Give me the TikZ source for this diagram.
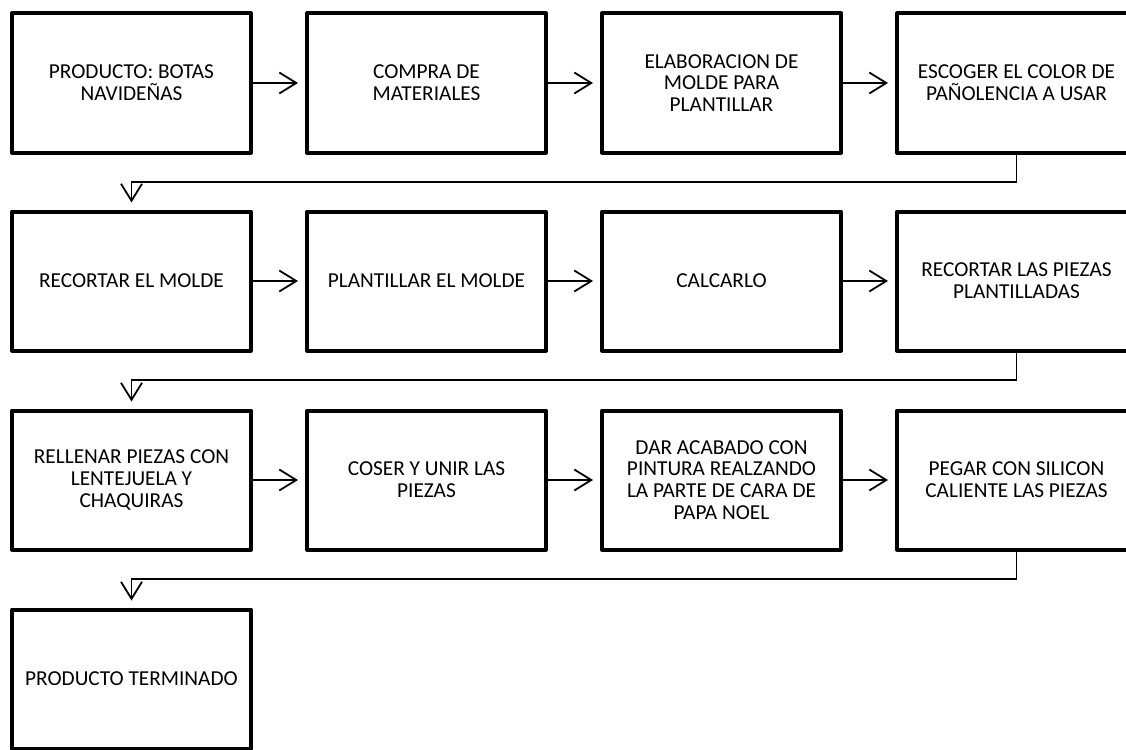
\documentclass[tikz,border=0pt]{standalone}
\usepackage{fontspec}
\setmainfont{Carlito}
\usetikzlibrary{arrows.meta}
\tikzset{
  stepbox/.style={draw=black, line width=4pt, line join=round, fill=white,
    rectangle, minimum width=239pt, minimum height=139pt, inner sep=0pt,
    align=center, font=\fontsize{21.3}{21.8}\selectfont},
  flow/.style={draw=black, line width=1.8pt,
    -{Straight Barb[length=17pt, width=21pt, line width=1.8pt]},
    shorten >=7pt},
}
\begin{document}
\begin{tikzpicture}[x=1pt, y=-1pt]
\useasboundingbox (0,0) rectangle (1126,749);
\clip (0,0) rectangle (1126,749);
\fill[white] (0,0) rectangle (1126,749);

% first row
\node[stepbox] (n1) at (131.5,83) {PRODUCTO: BOTAS\\NAVIDEÑAS};
\node[stepbox] (n2) at (426.5,83) {COMPRA DE\\MATERIALES};
\node[stepbox] (n3) at (721.5,83) {ELABORACION DE\\MOLDE PARA\\PLANTILLAR};
\node[stepbox] (n4) at (1016.5,83) {ESCOGER EL COLOR DE\\PAÑOLENCIA A USAR};
% second row
\node[stepbox] (n5) at (131.5,281) {RECORTAR EL MOLDE};
\node[stepbox] (n6) at (426.5,281) {PLANTILLAR EL MOLDE};
\node[stepbox] (n7) at (721.5,281) {CALCARLO};
\node[stepbox] (n8) at (1016.5,281) {RECORTAR LAS PIEZAS\\PLANTILLADAS};
% third row
\node[stepbox] (n9) at (131.5,480) {RELLENAR PIEZAS CON\\LENTEJUELA Y\\CHAQUIRAS};
\node[stepbox] (n10) at (426.5,480) {COSER Y UNIR LAS\\PIEZAS};
\node[stepbox] (n11) at (721.5,480) {DAR ACABADO CON\\PINTURA REALZANDO\\LA PARTE DE CARA DE\\PAPA NOEL};
\node[stepbox] (n12) at (1016.5,480) {PEGAR CON SILICON\\CALIENTE LAS PIEZAS};
% last row
\node[stepbox] (n13) at (131.5,679) {PRODUCTO TERMINADO};

% arrows along each row
\foreach \a/\b in {n1/n2,n2/n3,n3/n4,n5/n6,n6/n7,n7/n8,n9/n10,n10/n11,n11/n12}
  \draw[flow] (\a.east) -- (\b.west);

% return lines to the start of the next row
\draw[flow] (n4.south) -- (n4.south |- 0,182) -| (n5.north);
\draw[flow] (n8.south) -- (n8.south |- 0,380) -| (n9.north);
\draw[flow] (n12.south) -- (n12.south |- 0,579) -| (n13.north);
\end{tikzpicture}
\end{document}
